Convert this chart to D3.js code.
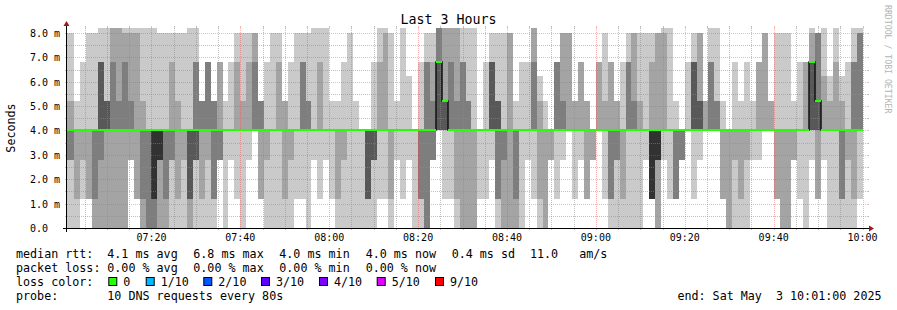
<!DOCTYPE html>
<html>
<head>
<meta charset="utf-8">
<script src="https://cdn.jsdelivr.net/npm/d3@7/dist/d3.min.js"></script>
<style>
    body { margin: 0; background: #fff; }
    text { font-family: "DejaVu Sans Mono", monospace; white-space: pre; }
</style>
</head>
<body>
<svg id="chart" width="897" height="310"></svg>
<script>
// 10 sorted pings per 80s step, "value" or "valuexcount"
const samples = [
    "0,2.8x2,4x5,5.2,8", "0,1.2,4x7,5.2", "1.2,2.8,4x7,6.8", "1.2x2,4x7,8", "0x2,1.2,4x6,8",
    "0x2,2.8,4x3,6.8x3,8.2", "0x2,4x4,5.2x3,8.2", "0x2,4x5,6.8,8.2x2", "0x2,4x5,5.2,8.2x2", "0x2,4x5,6.8,8,8.2",
    "2.8x2,4x5,5.2,8,8.2", "1.2x2,4x6,8,8.2", "0x2,1.2,4x5,5.2,8.2", "0x3,4x6,8.2", "0x3,1.2x2,4x4,8.2",
    "0x2,2.8x3,4x4,8", "0x2,1.2,4x6,8", "0,2.8x2,4x5,6.8,8", "0,1.2,4x6,5.2,8", "0,2.8,4x7,8",
    "0x2,1.2x2,4x5,8.2", "0,2.8x3,4x3,6.8x2,8.2", "0,1.2,4x5,5.2x3", "0,2.8,4x5,6.8x3", "0,1.2x2,4x4,5.2x3",
    "2.8x3,4x5,6.8x2", "0,4x8,5.2", "2.8,4x8,6.8", "1.2,4x7,6.8,8", "0,4x7,5.2,8",
    "2.8,4x7,6.8,8", "4x7,6.8,8x2", "1.2x2,4x5,5.2x3", "0,2.8,4x7,6.8", "0,4x8,8",
    "0,4x7,6.8,8", "0,1.2,4x6,5.2x2", "0,2.8,4x7,6.8", "1.2,4x8,8", "1.2,4x6,6.8x2,8",
    "0,4x6,5.2x2,8", "2.8,4x8,8.2", "1.2,4x7,6.8,8.2", "2.8,4x8,8.2", "1.2,4x8,5.2",
    "0,1.2,4x7,5.2", "0,2.8,4x7,6.8", "0,4x8,8", "0,4x8,5.2", "0,4x9",
    "0,1.2x3,4x6", "0,2.8x3,4x5,6.8", "1.2,4x7,6.8,8.2", "1.2,4x7,8,8.2", "0,1.2,4x7,8",
    "2.8,4x8,5.2", "1.2,4x8,8.2", "2.8,4x8,6.25", "0,4x9", "0,1.2x2,4x6,6.8",
    "0x3,4x4,6.8x2,8", "2.8x3,4x4,5.2,6.8,8", "4x4,6.8x3,8.2x3", "1.2,4x3,5.2x4,8.2x2", "1.2,4x6,6.8,8.2x2",
    "0,1.2,4x5,5.2,8.2x2", "0x2,4x5,6.8x2,8.2", "0x2,4x5,5.2x2,8.2", "0x2,4x7,8.2", "1.2,4x9",
    "1.2,4x8,6.8", "2.8,4x5,6.8x3,8", "0,1.2x2,4x3,5.2x3,8", "0x2,2.8,4x6,8", "0x2,4x6,8x2",
    "0x2,1.2,4x6,5.2", "0,4x8,6.8", "2.8,4x8,6.8", "1.2,4x6,6.8,8.2x2", "0,1.2,4x6,5.2,6.25",
    "0x2,4x7,5.2", "2.8x2,4x8", "1.2,4x6,6.8x3", "2.8,4x6,5.2,8x2", "4x8,8x2",
    "1.2,4x7,5.2x2", "2.8,4x7,6.8x2", "1.2x2,4x6,5.2x2", "2.8x2,4x8", "4x8,6.8x2",
    "1.2,4x7,5.2,8", "0,1.2x2,4x5,6.8x2", "0,2.8x2,4x5,5.2x2", "0,1.2,4x7,6.8", "0,4x6,6.8x2,8",
    "0,4x6,5.2,8x2", "0,4x7,5.2,8", "2.8,4x8,8", "1.2x5,4x3,6.8,8", "0x2,2.8x3,4x3,8x2",
    "2.8,4x7,8,8.2", "1.2,4x8,8.2", "1.2x3,4x6,5.2", "2.8x3,4x7", "4x9,6.8",
    "1.2,4x5,6.8x3,8", "2.8,4x5,5.2x2,8x2", "4x8,5.2x2", "4x7,6.8x2,8.2", "4x7,5.2x2,8.2",
    "1.2x2,4x7,5.2", "0x2,4x8", "0,2.8,4x7,6.8", "0,1.2,4x7,5.2", "0,2.8,4x7,6.8",
    "2.8,4x8,5.2", "2.8,4x7,6.8x2", "4x8,8x2", "4x8,5.2x2", "1.2x2,4x7,8",
    "0x2,4x7,8", "0x2,4x7,8", "2.8x2,4x7,5.2", "1.2,4x8,6.8", "0,4x7,6.8x2",
    "2.8,4x3,6.8x4,8,8.2", "1.2x2,4x2,5.2x3,8x3", "2.8,4x7,6.25,8.2", "0,4x7,5.2,6.25", "0,4x7,6.8,8.2",
    "0,1.2x2,4x5,5.2,6.25", "0,2.8,4x7,6.8", "0,1.2,4x5,6.8x2,8.2", "1.2,4x6,8x2,8.2"
]

const yTicks = [0, 1, 2, 3, 4, 5, 6, 7, 8]
const yLabels = ["0.0  ", "1.0 m", "2.0 m", "3.0 m", "4.0 m", "5.0 m", "6.0 m", "7.0 m", "8.0 m"]
const xTickLabels = ["07:20", "07:40", "08:00", "08:20", "08:40", "09:00", "09:20", "09:40", "10:00"]

const rttLine = ["4.1 ms avg", "6.8 ms max", "4.0 ms min", "4.0 ms now", "0.4 ms sd", "11.0   am/s"]
const lossLine = ["0.00 % avg", "0.00 % max", "0.00 % min", "0.00 % now"]
const lossNames = ["0", "1/10", "2/10", "3/10", "4/10", "5/10", "9/10"]
const lossColors = ["#26ff00", "#00b8ff", "#0059ff", "#5e00ff", "#7e00ff", "#dd00ff", "#ff0000"]
const smokeShades = ["#cacaca", "#a4a4a4", "#7e7e7e", "#585858", "#323232"]

const hms = s => { const [h, m, sec] = s.split(":").map(Number); return h * 3600 + m * 60 + sec }
const tStart = hms("07:01:00")
const tEnd = hms("10:01:00")
const firstStep = hms("07:02:40")
const step = 80
const yMax = 8.205

const parse = s => {
    const out = []
    s.split(",").forEach(t => {
        const [v, n] = t.split("x")
        for (let i = 0; i < (n ? +n : 1); i++) out.push(+v)
    })
    if (out.length !== 10) console.log("bad sample", s)
    return out.sort((a, b) => a - b)
}

const svg = d3.select("#chart")
const X0 = 67, X1 = 867, Y0 = 228, Y1 = 28

const x = d3.scaleLinear().domain([tStart, tEnd]).range([X0, X1])
const y = d3.scaleLinear().domain([0, yMax]).range([Y0, Y1])

svg.append("rect").attr("width", 897).attr("height", 310).attr("fill", "#fff")

const cols = samples.map((s, i) => ({
    t0: i === 0 ? tStart : firstStep + (i - 1) * step,
    t1: firstStep + i * step,
    p: parse(s)
}))
cols.forEach(c => { c.median = c.p[5] })

// smoke
const bands = []
cols.forEach(c => {
    for (let i = 0; i < 5; i++) {
        if (c.p[9 - i] > c.p[i]) bands.push({ c, lo: c.p[i], hi: c.p[9 - i], shade: smokeShades[i] })
    }
})
svg.append("g").attr("shape-rendering", "crispEdges")
    .selectAll("rect")
    .data(bands)
    .join("rect")
    .attr("x", d => Math.round(x(d.c.t0)))
    .attr("width", d => Math.round(x(d.c.t1)) - Math.round(x(d.c.t0)))
    .attr("y", d => Math.round(y(d.hi)))
    .attr("height", d => Math.round(y(d.lo)) - Math.round(y(d.hi)))
    .attr("fill", d => d.shade)

// grid
const grid = svg.append("g").attr("shape-rendering", "crispEdges")
const minorCol = "rgba(140,140,140,0.55)"
const majorCol = "rgba(235,70,70,0.4)"
const hGrid = d3.range(1, 17).map(k => k * 0.5)
grid.selectAll(".hg")
    .data(hGrid)
    .join("line")
    .attr("x1", X0).attr("x2", X1)
    .attr("y1", d => Math.round(y(d)) + 0.5).attr("y2", d => Math.round(y(d)) + 0.5)
    .attr("stroke", d => d % 1 === 0 ? majorCol : minorCol)
    .attr("stroke-dasharray", "1,1")
grid.selectAll(".ht")
    .data(hGrid.concat([0]))
    .join("path")
    .attr("d", d => { const yy = Math.round(y(d)) + 0.5; return `M${X0 - 2},${yy}H${X0}M${X1},${yy}H${X1 + 2}` })
    .attr("stroke", d => d % 1 === 0 ? majorCol : minorCol)

const vGrid = d3.range(hms("07:05:00"), tEnd, 300)
grid.selectAll(".vg")
    .data(vGrid)
    .join("line")
    .attr("x1", d => Math.round(x(d)) + 0.5).attr("x2", d => Math.round(x(d)) + 0.5)
    .attr("y1", Y1).attr("y2", Y0)
    .attr("stroke", d => (d % 1200 === 0) ? majorCol : minorCol)
    .attr("stroke-dasharray", "1,1")
grid.selectAll(".vt")
    .data(vGrid)
    .join("path")
    .attr("d", d => { const xx = Math.round(x(d)) + 0.5; return `M${xx},${Y0}V${Y0 + 2}M${xx},${Y1 - 2}V${Y1}` })
    .attr("stroke", d => (d % 1200 === 0) ? majorCol : minorCol)

// median: black steps, green per step
let medPath = ""
cols.forEach((c, i) => {
    const xa = Math.round(x(c.t0)), xb = Math.round(x(c.t1)), yy = Math.round(y(c.median))
    medPath += (i === 0 ? `M${xa},${yy}` : `V${yy}`) + `H${xb}`
})
svg.append("path").attr("d", medPath).attr("fill", "none").attr("stroke", "#111").attr("stroke-width", 1.5)
svg.append("g").attr("shape-rendering", "crispEdges")
    .selectAll("line")
    .data(cols)
    .join("line")
    .attr("x1", d => Math.round(x(d.t0))).attr("x2", d => Math.round(x(d.t1)))
    .attr("y1", d => Math.round(y(d.median))).attr("y2", d => Math.round(y(d.median)))
    .attr("stroke", lossColors[0])
    .attr("stroke-width", 2)

// axes
const axis = svg.append("g")
axis.append("line").attr("x1", X0 - 4).attr("x2", X1 + 4).attr("y1", Y0 + 0.5).attr("y2", Y0 + 0.5)
    .attr("stroke", "#000").attr("shape-rendering", "crispEdges")
axis.append("line").attr("x1", X0 - 0.5).attr("x2", X0 - 0.5).attr("y1", Y0 + 4).attr("y2", Y1 - 4)
    .attr("stroke", "#000").attr("shape-rendering", "crispEdges")
axis.append("path").attr("d", `M${X1 + 2},${Y0 - 2.5}L${X1 + 7},${Y0 + 0.5}L${X1 + 2},${Y0 + 3.5}Z`).attr("fill", "#a01818")
axis.append("path").attr("d", `M${X0 - 3.5},${Y1 - 2}L${X0 - 0.5},${Y1 - 7}L${X0 + 2.5},${Y1 - 2}Z`).attr("fill", "#a01818")

svg.append("g").selectAll("text")
    .data(yTicks)
    .join("text")
    .attr("x", 30)
    .attr("y", d => Math.round(y(d)) + 3.7)
    .attr("font-size", 10)
    .text((d, i) => yLabels[i])

const xTicks = xTickLabels.map(hms0 => hms(hms0 + ":00"))
svg.append("g").selectAll("text")
    .data(xTicks)
    .join("text")
    .attr("x", d => x(d))
    .attr("y", 241)
    .attr("text-anchor", "middle")
    .attr("font-size", 10)
    .text((d, i) => xTickLabels[i])

// title and side texts
svg.append("text").attr("x", 448.5).attr("y", 24).attr("text-anchor", "middle").attr("font-size", 13.3).text("Last 3 Hours")
svg.append("text").attr("transform", "translate(15,128) rotate(-90)").attr("text-anchor", "middle")
    .attr("font-size", 11.7).text("Seconds")
svg.append("text").attr("transform", "translate(885,5) rotate(90)").attr("font-size", 8.2)
    .attr("fill", "#b4b4b4").text("RRDTOOL / TOBI OETIKER")

// legend
const legend = svg.append("g").attr("font-size", 11.7)
const col1 = 16
const statX = [107.3, 193.3, 279.3, 365.7, 451.7, 530]
legend.append("text").attr("x", col1).attr("y", 258).text("median rtt:")
legend.selectAll(".rtt").data(rttLine).join("text")
    .attr("x", (d, i) => statX[i]).attr("y", 258).text(d => d)
legend.append("text").attr("x", col1).attr("y", 272).text("packet loss:")
legend.selectAll(".loss").data(lossLine).join("text")
    .attr("x", (d, i) => statX[i]).attr("y", 272).text(d => d)
legend.append("text").attr("x", col1).attr("y", 286).text("loss color:")
const boxX = [108.3, 145.7, 203.3, 261, 319, 376.7, 435]
legend.selectAll(".box").data(lossNames).join("rect")
    .attr("x", (d, i) => boxX[i] + 0.5).attr("y", 277.5).attr("width", 8).attr("height", 8)
    .attr("fill", (d, i) => lossColors[i]).attr("stroke", "#000").attr("stroke-width", 1)
legend.selectAll(".lname").data(lossNames).join("text")
    .attr("x", (d, i) => boxX[i] + 15).attr("y", 286).text(d => d)
legend.append("text").attr("x", col1).attr("y", 300).text("probe:")
legend.append("text").attr("x", 107.3).attr("y", 300).text("10 DNS requests every 80s")
legend.append("text").attr("x", 881.5).attr("y", 300).attr("text-anchor", "end").text("end: Sat May  3 10:01:00 2025")
</script>
</body>
</html>
